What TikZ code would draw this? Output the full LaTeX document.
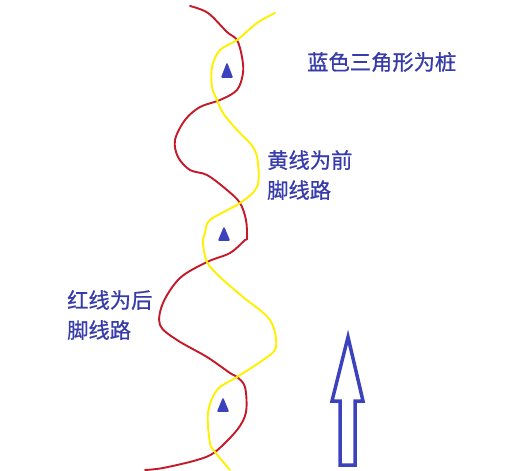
\documentclass[tikz,border=0pt]{standalone}
\usepackage{fontspec}
\newfontfamily\cjk{Noto Sans CJK SC}[FakeBold=0.8]
\definecolor{pileblue}{RGB}{60,66,190}
\definecolor{textblue}{RGB}{55,60,170}
\definecolor{rearred}{RGB}{195,25,40}
\definecolor{frontyellow}{RGB}{255,240,0}

\tikzset{
  rear/.style={rearred,line width=1.9pt,line join=round,line cap=round},
  front/.style={frontyellow,line width=1.9pt,line join=round,line cap=round},
  pile/.style={fill=pileblue,draw=pileblue,line width=1.5pt,line join=round},
  lbl/.style={textblue,font=\cjk\fontsize{21.3}{30}\selectfont,align=left,inner sep=0pt}
}

\begin{document}
\begin{tikzpicture}[x=1pt,y=-1pt]
  \useasboundingbox (0,0) rectangle (523,471);
  % rear feet path
  \draw[rear] plot[smooth,tension=0.55] coordinates {
    (190,6) (208,13) (227,32) (237,40) (242,57) (243,73) (237,90) (220,100)
    (200,107) (185,120) (175,140) (178,157) (190,170) (207,175) (227,190)
    (240,203) (246,220) (247,238) (245,240) (230,253) (207,262) (180,278)
    (163,303) (160,325) (177,340) (207,357) (230,373) (237,377) (245,387)
    (246,412) (237,430) (215,452) (197,460) (163,468) (145,470)};
  % front feet path
  \draw[front] plot[smooth,tension=0.55] coordinates {
    (275,13) (257,23) (237,40) (220,50) (212,67) (212,87) (217,100) (223,113)
    (237,130) (253,147) (258,163) (257,187) (240,203) (210,220) (205,233)
    (203,243) (207,262) (220,277) (243,297) (270,320) (276,347) (263,360)
    (237,377) (217,390) (208,413) (210,443) (215,452) (230,470)};
  % piles
  \draw[pile] (227,64) -- (232,77) -- (222,77) -- cycle;
  \draw[pile] (224,228) -- (229,240) -- (219,240) -- cycle;
  \draw[pile] (223,399) -- (228,411) -- (218,411) -- cycle;
  % direction arrow
  \draw[pileblue,line width=3.5pt,line join=miter]
    (348,337) -- (363,401) -- (355,401) -- (355,465) -- (340,465)
    -- (340,401) -- (332,401) -- cycle;
  % labels
  \node[lbl,anchor=west] (legend) at (307,62) {蓝色三角形为桩};
  \node[lbl,anchor=north west] (front) at (267,150) {黄线为前\\脚线路};
  \node[lbl,anchor=north west] (rear) at (67,290) {红线为后\\脚线路};
\end{tikzpicture}
\end{document}
